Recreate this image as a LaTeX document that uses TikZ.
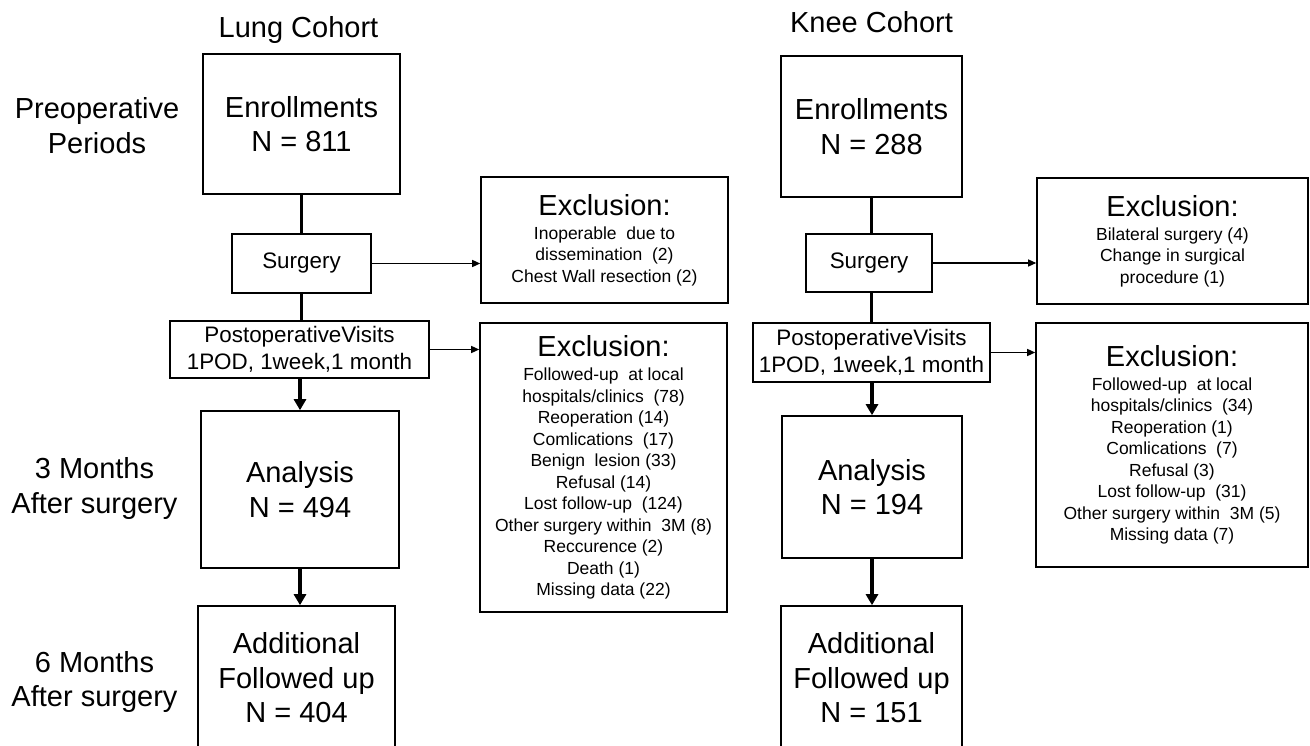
\documentclass[tikz,border=0pt]{standalone}
\usepackage{fontspec}
\setmainfont{Liberation Sans}
\usetikzlibrary{arrows.meta}
\begin{document}
\begin{tikzpicture}[x=1pt,y=-1pt,
  box/.style={draw, line width=1.6pt, inner sep=0pt, align=center},
  bigtxt/.style={font=\fontsize{29}{34.5}\selectfont},
  midtxt/.style={font=\fontsize{22.4}{27}\selectfont},
  smalltxt/.style={font=\fontsize{17.5}{21.5}\selectfont},
  lbl/.style={align=center, inner sep=0pt},
  conn/.style={line width=3.5pt},
  connarr/.style={line width=3.5pt, -{Triangle[length=11pt,width=12pt]}},
  thinarr/.style={line width=1.3pt, -{Triangle[length=8pt,width=7pt]}}
]
\fill[white] (0,0) rectangle (1310,746);
\useasboundingbox (0,0) rectangle (1310,746);
\clip (0,0) rectangle (1310,746);

% titles and period labels
\node[lbl, bigtxt, anchor=base] (tl) at (298.5,38) {Lung Cohort};
\node[lbl, bigtxt, anchor=base] (tk) at (871.5,33) {Knee Cohort};
\node[lbl, bigtxt] (p0) at (97,125.6) {Preoperative\\Periods};
\node[lbl, bigtxt] (p3) at (94.5,488.5) {3 Months\\After surgery};
\node[lbl, bigtxt] (p6) at (94.5,682) {6 Months\\After surgery};

% lung cohort
\node[box, bigtxt, minimum width=197, minimum height=140] (le) at (301.5,124) {Enrollments\\N = 811};
\node[box, midtxt, minimum width=139, minimum height=59] (ls) at (301.5,263.5) {Surgery};
\node[box, midtxt, minimum width=259, minimum height=57] (lp) at (299.5,349.5) {PostoperativeVisits\\1POD, 1week,1 month};
\node[box, bigtxt, minimum width=198, minimum height=157] (la) at (300,489.5) {Analysis\\N = 494};
\node[box, bigtxt, minimum width=197, minimum height=144] (lf) at (296.5,678) {Additional\\Followed up\\N = 404};

\node[box, smalltxt, minimum width=247, minimum height=126] (lx1) at (604.5,240)
  {{\fontsize{29}{24}\selectfont Exclusion:}\\[2.5pt]Inoperable\ \ due to\\dissemination\ \ (2)\\Chest Wall resection (2)};
\node[box, smalltxt, minimum width=247, minimum height=289] (lx2) at (603.5,467.5)
  {{\fontsize{29}{24}\selectfont Exclusion:}\\[2.5pt]Followed-up\ \ at local\\hospitals/clinics\ \ (78)\\Reoperation (14)\\Comlications\ \ (17)\\Benign\ \ lesion (33)\\Refusal (14)\\Lost follow-up\ \ (124)\\Other surgery within\ \ 3M (8)\\Reccurence (2)\\Death (1)\\Missing data (22)};

% knee cohort
\node[box, bigtxt, minimum width=181, minimum height=141] (ke) at (871.5,126.5) {Enrollments\\N = 288};
\node[box, midtxt, minimum width=126, minimum height=58] (ks) at (869,263) {Surgery};
\node[box, midtxt, minimum width=237, minimum height=59] (kp) at (871.5,352.5) {PostoperativeVisits\\1POD, 1week,1 month};
\node[box, bigtxt, minimum width=180, minimum height=142] (ka) at (872,487) {Analysis\\N = 194};
\node[box, bigtxt, minimum width=181, minimum height=144] (kf) at (871.5,678) {Additional\\Followed up\\N = 151};

\node[box, smalltxt, minimum width=271, minimum height=126] (kx1) at (1172.5,241)
  {{\fontsize{29}{24}\selectfont Exclusion:}\\[2.5pt]Bilateral surgery (4)\\Change in surgical\\procedure (1)};
\node[box, smalltxt, minimum width=272, minimum height=244] (kx2) at (1172,445)
  {{\fontsize{29}{24}\selectfont Exclusion:}\\[2.5pt]Followed-up\ \ at local\\hospitals/clinics\ \ (34)\\Reoperation (1)\\Comlications\ \ (7)\\Refusal (3)\\Lost follow-up\ \ (31)\\Other surgery within\ \ 3M (5)\\Missing data (7)};

% lung connectors
\draw[conn] (le.south) -- (le.south |- ls.north);
\draw[conn] (ls.south) -- (ls.south |- lp.north);
\draw[connarr] (la.north |- lp.south) -- (la.north);
\draw[connarr] (la.south) -- (la.south |- lf.north);
\draw[thinarr] (ls.east) -- (ls.east -| lx1.west);
\draw[thinarr] (lp.east) -- (lp.east -| lx2.west);

% knee connectors
\draw[conn] (ke.south) -- (ke.south |- ks.north);
\draw[conn] (ks.south -| ke.south) -- (kp.north -| ke.south);
\draw[connarr] (ka.north |- kp.south) -- (ka.north);
\draw[connarr] (ka.south) -- (ka.south |- kf.north);
\draw[thinarr] (ks.east) -- (ks.east -| kx1.west);
\draw[thinarr] (kp.east) -- (kp.east -| kx2.west);
\end{tikzpicture}
\end{document}
